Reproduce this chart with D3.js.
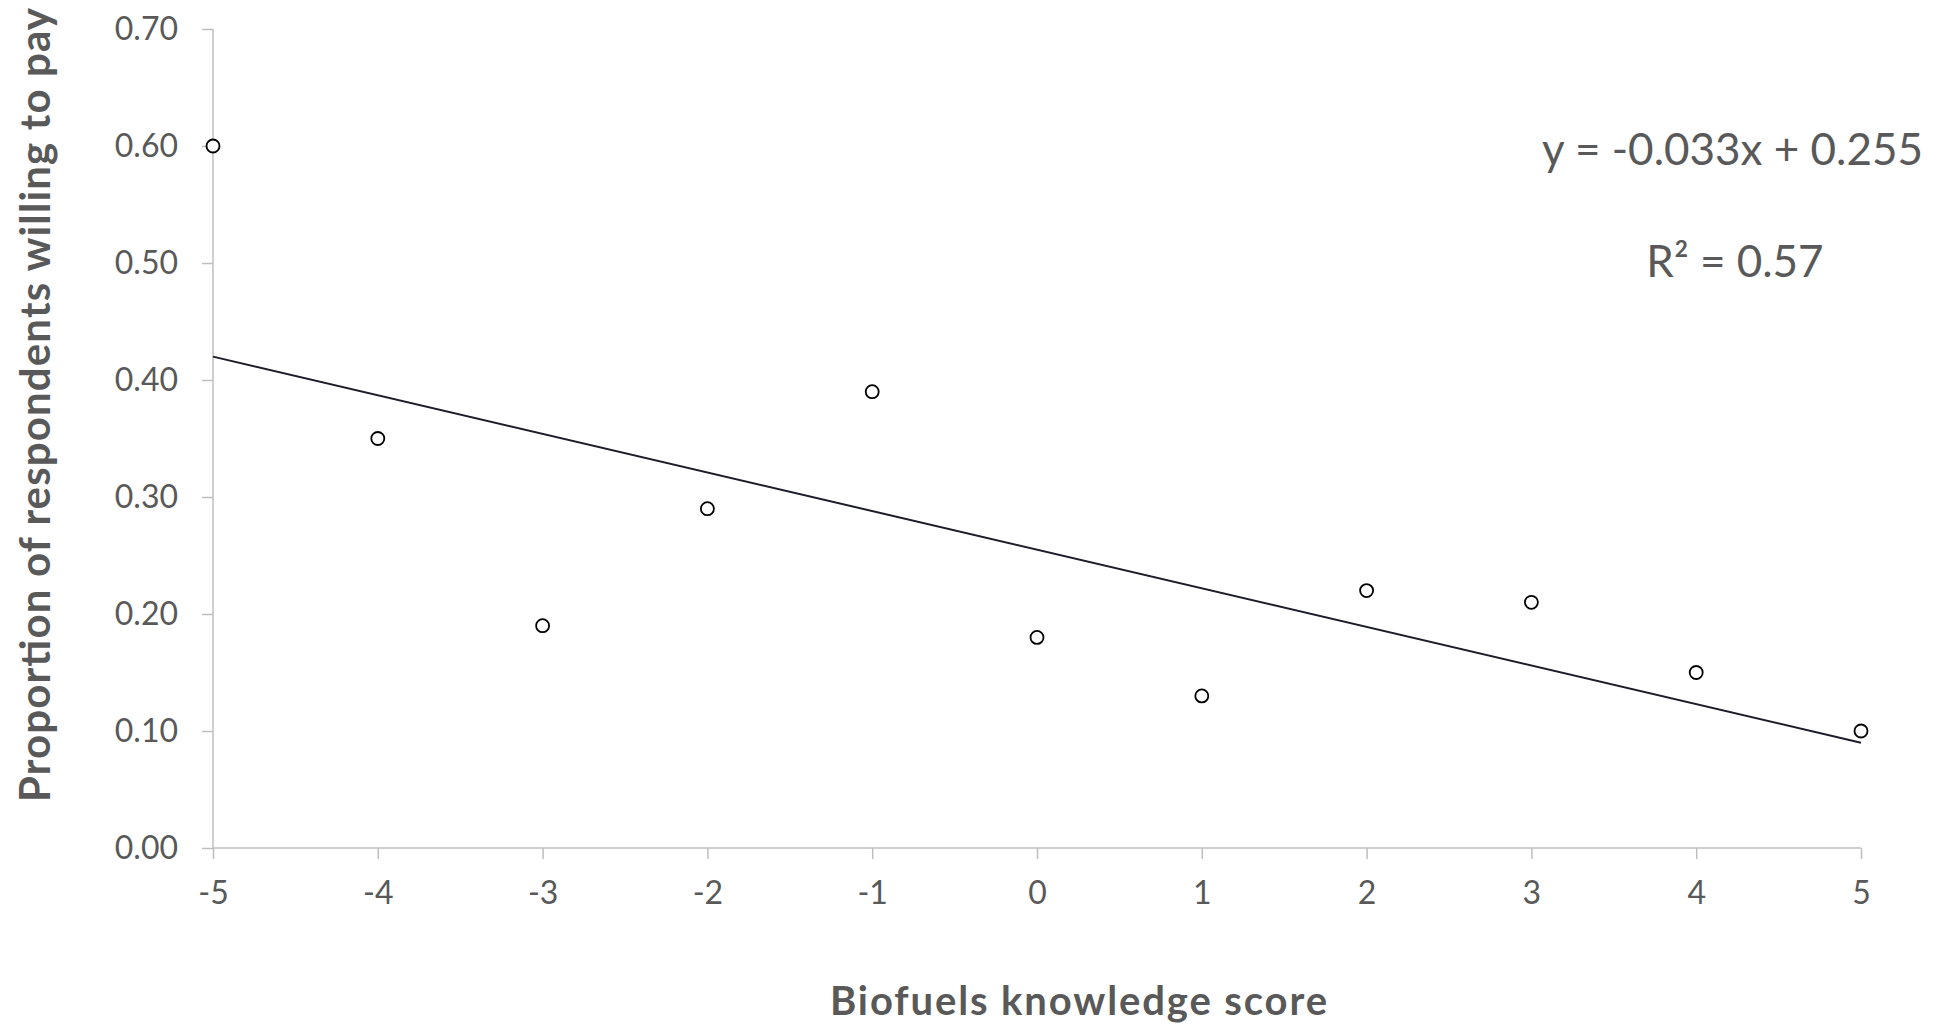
<!DOCTYPE html>
<html>
<head>
<meta charset="utf-8">
<script src="https://cdn.jsdelivr.net/npm/d3@7"></script>
<style>
  html, body { margin: 0; padding: 0; background: #fff; }
  svg { display: block; }
  text { font-family: Lato, "Open Sans", sans-serif; fill: #595959; }
</style>
</head>
<body>
<svg id="chart" width="1944" height="1028"></svg>
<script>
// Knowledge score (x) and share willing to pay (y)
const scores = [-5, -4, -3, -2, -1, 0, 1, 2, 3, 4, 5];
const proportions = [0.60, 0.35, 0.19, 0.29, 0.39, 0.18, 0.13, 0.22, 0.21, 0.15, 0.10];
const yTicks = [0, 0.1, 0.2, 0.3, 0.4, 0.5, 0.6, 0.7];
const xTicks = [-5, -4, -3, -2, -1, 0, 1, 2, 3, 4, 5];
// Linear fit as reported
const slope = -0.033;
const intercept = 0.255;
const rSquared = 0.57;

const svg = d3.select("#chart");
const plotLeft = 213, plotRight = 1861, plotTop = 29, plotBottom = 848;

const x = d3.scaleLinear().domain([-5, 5]).range([plotLeft, plotRight]);
const y = d3.scaleLinear().domain([0, 0.7]).range([plotBottom, plotTop]);

const axisColor = "#bfbfbf";

// y axis
const yAxis = svg.append("g")
  .attr("transform", `translate(${plotLeft},0)`)
  .call(d3.axisLeft(y).tickValues(yTicks).tickFormat(d3.format(".2f")).tickSize(11).tickPadding(24));
// x axis
const xAxis = svg.append("g")
  .attr("transform", `translate(0,${plotBottom})`)
  .call(d3.axisBottom(x).tickValues(xTicks).tickFormat(d => d).tickSize(11).tickPadding(22));

[yAxis, xAxis].forEach(g => {
  g.selectAll("path.domain").attr("stroke", axisColor).attr("stroke-width", 1.5);
  g.selectAll(".tick line").attr("stroke", axisColor).attr("stroke-width", 1.5);
  g.selectAll(".tick text")
    .attr("fill", "#595959")
    .style("font-family", "Lato, 'Open Sans', sans-serif")
    .style("font-size", "32px");
});
// plain axis lines without end caps
yAxis.select("path.domain").attr("d", `M0,${plotTop}V${plotBottom}`);
xAxis.select("path.domain").attr("d", `M${plotLeft},0H${plotRight}`);

// trend line
svg.append("line")
  .attr("x1", x(-5)).attr("y1", y(intercept + slope * -5))
  .attr("x2", x(5)).attr("y2", y(intercept + slope * 5))
  .attr("stroke", "#1c1c2a")
  .attr("stroke-width", 2);

// data points
svg.append("g").selectAll("circle")
  .data(scores.map((s, i) => ({ s, p: proportions[i] })))
  .join("circle")
  .attr("cx", d => x(d.s))
  .attr("cy", d => y(d.p))
  .attr("r", 6.5)
  .attr("fill", "#fff")
  .attr("stroke", "#000")
  .attr("stroke-width", 1.8);

// regression annotation
svg.append("text")
  .attr("x", 1923).attr("y", 165)
  .attr("text-anchor", "end")
  .style("font-size", "44px")
  .text(`y = ${slope.toFixed(3)}x + ${intercept.toFixed(3)}`);
svg.append("text")
  .attr("x", 1735).attr("y", 277)
  .attr("text-anchor", "middle")
  .style("font-size", "44px")
  .text(`R² = ${rSquared.toFixed(2)}`);

// axis titles
svg.append("text")
  .attr("x", 830).attr("y", 1015)
  .attr("textLength", 497)
  .attr("lengthAdjust", "spacing")
  .style("font-size", "40px")
  .style("font-weight", "bold")
  .text("Biofuels knowledge score");

svg.append("text")
  .attr("transform", `translate(50,802) rotate(-90)`)
  .attr("textLength", 794)
  .attr("lengthAdjust", "spacing")
  .style("font-size", "42px")
  .style("font-weight", "bold")
  .text("Proportion of respondents willing to pay");
</script>
</body>
</html>
